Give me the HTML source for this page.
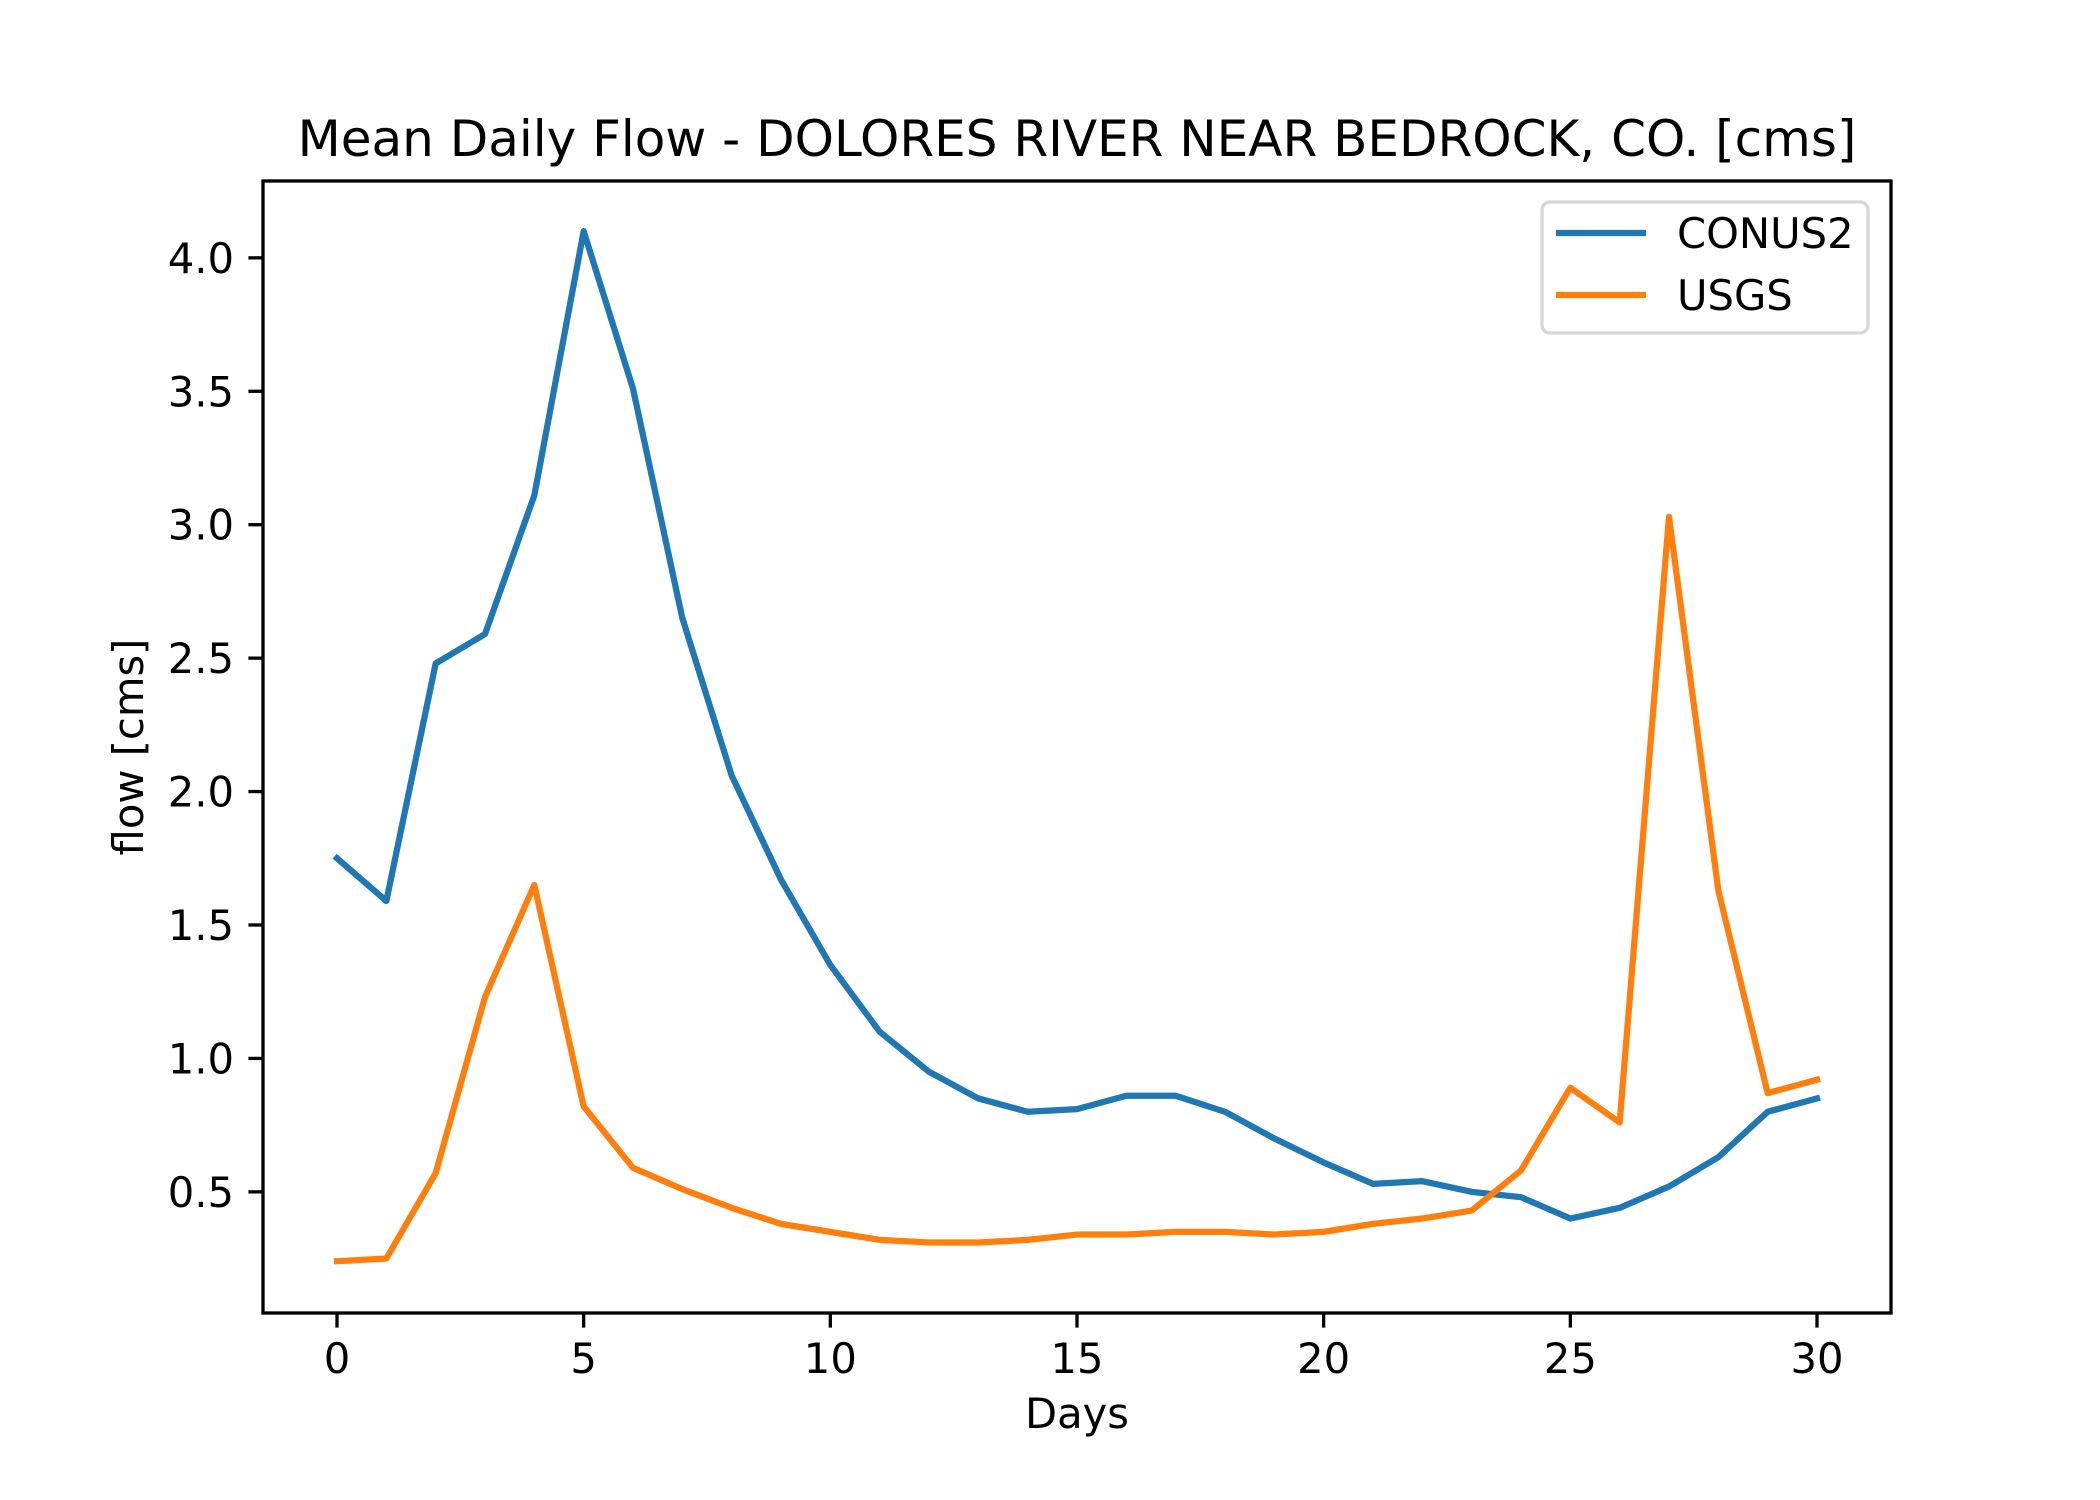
<!DOCTYPE html>
<html><head><meta charset="utf-8"><style>
html,body{margin:0;padding:0;background:#fff;}
svg{display:block;font-family:"DejaVu Sans","Liberation Sans",sans-serif;}
</style></head><body>
<svg id="chart" width="2100" height="1500" viewBox="0 0 2100 1500">
<rect width="2100" height="1500" fill="#fff"/>
<g id="plot"></g>
</svg>
<script>
const days = [0,1,2,3,4,5,6,7,8,9,10,11,12,13,14,15,16,17,18,19,20,21,22,23,24,25,26,27,28,29,30];
const conus2 = [1.75,1.59,2.48,2.59,3.11,4.10,3.51,2.65,2.06,1.67,1.35,1.10,0.95,0.85,0.80,0.81,0.86,0.86,0.80,0.70,0.61,0.53,0.54,0.50,0.48,0.40,0.44,0.52,0.63,0.80,0.85];
const usgs = [0.24,0.25,0.57,1.23,1.65,0.82,0.59,0.51,0.44,0.38,0.35,0.32,0.31,0.31,0.32,0.34,0.34,0.35,0.35,0.34,0.35,0.38,0.40,0.43,0.58,0.89,0.76,3.03,1.63,0.87,0.92];
const xTicks = [0,5,10,15,20,25,30];
const yTicks = [0.5,1.0,1.5,2.0,2.5,3.0,3.5,4.0];

const L=263,R=1891,T=181,B=1313;
const xMin=-1.5,xMax=31.5,yMin=0.046,yMax=4.288;
const xs=v=>L+(v-xMin)/(xMax-xMin)*(R-L);
const ys=v=>B-(v-yMin)/(yMax-yMin)*(B-T);
const NS='http://www.w3.org/2000/svg';
const g=document.getElementById('plot');
function el(tag,attrs,parent){const e=document.createElementNS(NS,tag);for(const k in attrs)e.setAttribute(k,attrs[k]);(parent||g).appendChild(e);return e;}

function series(vals,color,name){
  const p=el('polyline',{points:vals.map((v,i)=>xs(days[i])+','+ys(v)).join(' '),fill:'none',stroke:color,'stroke-width':6.25,'stroke-linejoin':'round','stroke-linecap':'square'});
  
  
}
series(conus2,'#1f77b4','conus2-line');
series(usgs,'#ff7f0e','usgs-line');

const frame=el('rect',{x:L,y:T,width:R-L,height:B-T,fill:'none',stroke:'#000','stroke-width':3.3});



xTicks.forEach(t=>{
  const x=xs(t);
  const tk=el('line',{x1:x,x2:x,y1:B,y2:B+14.6,stroke:'#000','stroke-width':3.3});
  
  
  const tx=el('text',{x:x,y:B+60,'text-anchor':'middle','font-size':41.7,fill:'#000'});
  tx.textContent=t;
  
  
});
yTicks.forEach(t=>{
  const y=ys(t);
  const tk=el('line',{x1:L-14.6,x2:L,y1:y,y2:y,stroke:'#000','stroke-width':3.3});
  
  
  const tx=el('text',{x:L-29,y:y+15,'text-anchor':'end','font-size':41.7,fill:'#000'});
  tx.textContent=t.toFixed(1);
  
  
});

const title=el('text',{x:(L+R)/2,y:156,'text-anchor':'middle','font-size':50,fill:'#000'});
title.textContent='Mean Daily Flow - DOLORES RIVER NEAR BEDROCK, CO. [cms]';



const xl=el('text',{x:(L+R)/2,y:1428,'text-anchor':'middle','font-size':41.7,fill:'#000'});
xl.textContent='Days';



const yl=el('text',{x:0,y:0,'text-anchor':'middle','font-size':41.7,fill:'#000',transform:'translate(143,'+((T+B)/2)+') rotate(-90)'});
yl.textContent='flow [cms]';



const lg=el('g',{});


el('rect',{x:1542,y:202,width:326,height:131,rx:8,fill:'#fff','fill-opacity':0.8,stroke:'#d6d6d6','stroke-width':3.3},lg);
[['CONUS2','#1f77b4',233],['USGS','#ff7f0e',295]].forEach(([n,c,y])=>{
  const ln=el('line',{x1:1556,x2:1646,y1:y,y2:y,stroke:c,'stroke-width':6.25},lg);
  
  
  const t=el('text',{x:1677,y:y+15,'font-size':41.7,fill:'#000'},lg);
  t.textContent=n;
  
  
});
</script>
</body></html>
